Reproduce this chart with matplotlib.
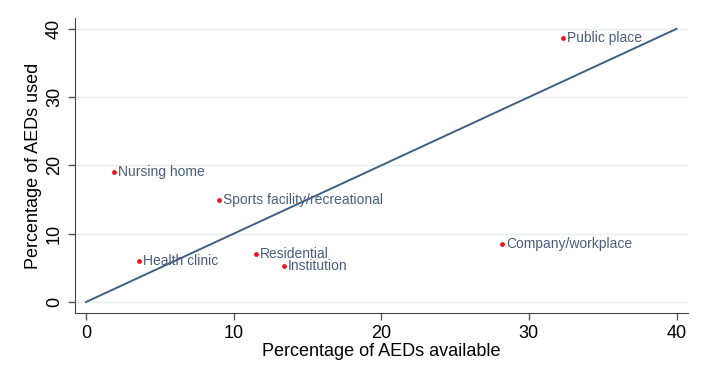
import matplotlib
matplotlib.use("Agg")
import matplotlib.pyplot as plt

# percentage of AEDs available vs used, by location type
locations = ["Nursing home", "Sports facility/recreational", "Health clinic",
             "Residential", "Institution", "Company/workplace", "Public place"]
pct_available = [1.9, 9.0, 3.6, 11.5, 13.4, 28.2, 32.3]
pct_used = [19.0, 15.0, 6.0, 7.1, 5.3, 8.5, 38.6]

ticks = [0, 10, 20, 30, 40]

LINE_COL = "#3f5f82"
TEXT_COL = "#4a5d7c"

plt.rcParams["font.family"] = ["Liberation Sans", "DejaVu Sans"]

fig = plt.figure(figsize=(7.2, 3.73), dpi=100)
ax = fig.add_axes([0.104, 0.161, 0.852, 0.791])

ax.plot([0, 40], [0, 40], color=LINE_COL, lw=1.4, zorder=2)
ax.scatter(pct_available, pct_used, s=12, color="#e8141c", zorder=3, linewidths=0)
for name, x, y in zip(locations, pct_available, pct_used):
    ax.annotate(name, (x, y), xytext=(3, 0), textcoords="offset points",
                va="center", ha="left", fontsize=10, color=TEXT_COL)

ax.set_xlim(-0.75, 40.8)
ax.set_ylim(-1.6, 41.6)
ax.set_xticks(ticks)
ax.set_yticks(ticks)
ax.tick_params(axis="both", labelsize=13, length=5, width=1, color="#555555")
plt.setp(ax.get_yticklabels(), rotation=90, va="center")
ax.grid(axis="y", color="#e6f0f2", lw=1)
ax.set_axisbelow(True)
for side in ("top", "right"):
    ax.spines[side].set_visible(False)
for side in ("left", "bottom"):
    ax.spines[side].set_color("#444444")
ax.set_xlabel("Percentage of AEDs available", fontsize=13, labelpad=1)
ax.set_ylabel("Percentage of AEDs used", fontsize=13, labelpad=3)

fig.savefig("out.png", dpi=100)
